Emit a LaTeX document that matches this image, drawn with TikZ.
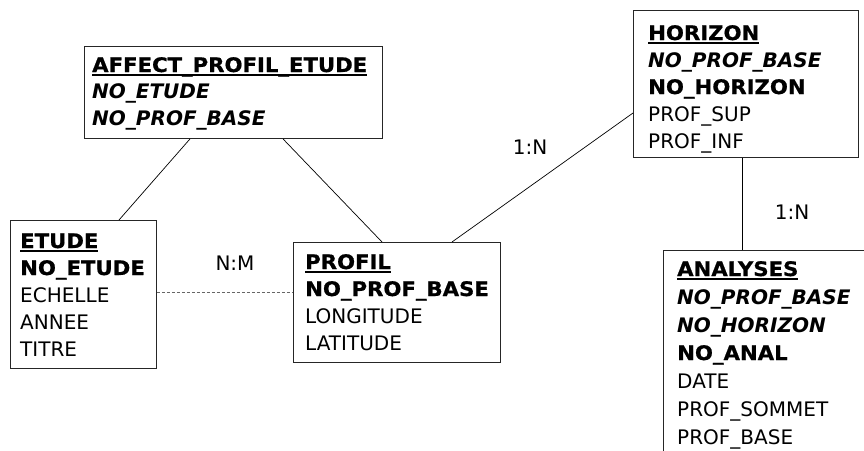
\documentclass[tikz,border=0pt]{standalone}
\usepackage{fontspec}
\setmainfont{DejaVu Sans}[BoldFeatures={FakeStretch=1.06,FakeBold=0.8}]
\usetikzlibrary{calc}

% header line of an entity: bold and underlined
\newcommand\enthead[1]{\setbox0\hbox{\textbf{#1}}\rlap{\rule[-3.6pt]{\wd0}{1.7pt}}\box0}
% key attribute (bold) and foreign key (bold italic)
\newcommand\entkey[1]{\textbf{#1}}
\newcommand\entfk[1]{\textbf{\textit{#1}}}
% attribute list, baseline on its first line
\newcommand\entlist[1]{\begin{tabular}[t]{@{}l@{}}#1\end{tabular}}

\tikzset{
  entity/.style={draw=black!85, line width=0.9pt, rectangle, inner sep=0pt, anchor=north west},
  attrs/.style={anchor=base west, inner sep=0pt, font=\fontsize{20}{27}\selectfont},
  card/.style={inner sep=0pt, font=\fontsize{20}{24}\selectfont},
  rel/.style={draw=black, line width=0.7pt},
  relopt/.style={draw=black!60, line width=0.8pt, dash pattern=on 3pt off 2pt},
}

\begin{document}
\begin{tikzpicture}[x=1pt, y=-1pt]
\clip (0,0) rectangle (864,450);
\fill[white] (0,0) rectangle (864,450);

% entity boxes
\node[entity, minimum width=298pt, minimum height=92pt] (affect) at (84,46) {};
\node[entity, minimum width=146pt, minimum height=148pt] (etude) at (10,220) {};
\node[entity, minimum width=207pt, minimum height=120pt] (profil) at (293,242) {};
\node[entity, minimum width=225pt, minimum height=147pt] (horizon) at (633,10) {};
\node[entity, minimum width=230pt, minimum height=230pt] (analyses) at (663,250) {};

% attribute lists
\node[attrs] (affect-t) at (92,72) {\entlist{%
  \enthead{AFFECT\_PROFIL\_ETUDE}\\[-0.5pt]
  \entfk{NO\_ETUDE}\\[-0.5pt]
  \entfk{NO\_PROF\_BASE}}};

\node[attrs] (etude-t) at (20,248) {\entlist{%
  \enthead{ETUDE}\\
  \entkey{NO\_ETUDE}\\
  ECHELLE\\
  ANNEE\\
  TITRE}};

\node[attrs] (profil-t) at (305,269) {\entlist{%
  \enthead{PROFIL}\\
  \entkey{NO\_PROF\_BASE}\\
  LONGITUDE\\
  LATITUDE}};

\node[attrs] (horizon-t) at (648,40) {\entlist{%
  \enthead{HORIZON}\\
  \entfk{NO\_PROF\_BASE}\\
  \entkey{NO\_HORIZON}\\
  PROF\_SUP\\
  PROF\_INF}};

\node[attrs, font=\fontsize{20}{28}\selectfont] (analyses-t) at (677,276) {\entlist{%
  \enthead{ANALYSES}\\
  \entfk{NO\_PROF\_BASE}\\
  \entfk{NO\_HORIZON}\\
  \entkey{NO\_ANAL}\\
  DATE\\
  PROF\_SOMMET\\
  PROF\_BASE}};

% relationships
\draw[rel] ([xshift=106pt]affect.south west) -- ([xshift=109pt]etude.north west);
\draw[rel] ([xshift=199pt]affect.south west) -- ([xshift=89pt]profil.north west);
\draw[rel] ([xshift=159pt]profil.north west) -- ([yshift=-103pt]horizon.north west);
\draw[rel] ([xshift=109pt]horizon.south west) -- ([xshift=79pt]analyses.north west);
\draw[relopt] ([yshift=-72pt]etude.north east) -- ([yshift=-50pt]profil.north west);

% cardinalities
\node[card] (card-nm) at (235,263) {N:M};
\node[card] (card-ph) at (530,147) {1:N};
\node[card] (card-ha) at (792,212) {1:N};
\end{tikzpicture}
\end{document}
